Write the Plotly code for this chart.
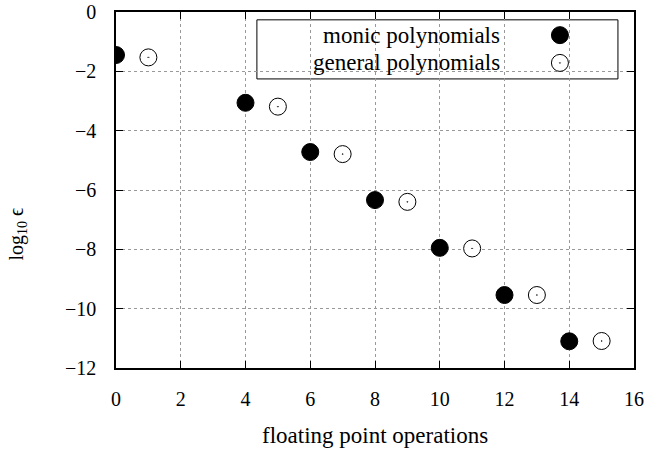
import plotly.graph_objects as go

monic_x = [0, 4, 6, 8, 10, 12, 14]
monic_y = [-1.45, -3.06, -4.72, -6.34, -7.95, -9.54, -11.1]
general_x = [1, 5, 7, 9, 11, 13, 15]
general_y = [-1.53, -3.19, -4.79, -6.40, -7.97, -9.54, -11.09]
series_names = ["monic polynomials", "general polynomials"]
x_ticks = [0, 2, 4, 6, 8, 10, 12, 14, 16]
y_ticks = [0, -2, -4, -6, -8, -10, -12]

FONT = "'Liberation Serif', 'Times New Roman', serif"
TICK_FS = 20
TEXT_FS = 23

fig = go.Figure()
fig.add_trace(go.Scatter(x=monic_x, y=monic_y, mode="markers", name=series_names[0],
                         marker=dict(symbol="circle", size=17, color="black",
                                     line=dict(color="black", width=1)),
                         showlegend=False))
fig.add_trace(go.Scatter(x=general_x, y=general_y, mode="markers", name=series_names[1],
                         marker=dict(symbol="circle-dot", size=17, color="white",
                                     line=dict(color="black", width=1)),
                         showlegend=False))

# custom legend (marker on the right of right-aligned text)
leg_x0, leg_x1, leg_y0, leg_y1 = 0.272, 0.969, 0.812, 0.978
leg_text_x = 0.745
leg_mark_x = 0.857
leg_rows = [0.935, 0.857]
fig.add_shape(type="rect", xref="paper", yref="paper", x0=leg_x0, x1=leg_x1,
              y0=leg_y0, y1=leg_y1, line=dict(color="black", width=1),
              fillcolor="white", layer="between")
for name, ry in zip(series_names, leg_rows):
    fig.add_annotation(x=leg_text_x, y=ry, xref="paper", yref="paper", text=name,
                       showarrow=False, xanchor="right", yanchor="middle",
                       font=dict(family=FONT, size=TEXT_FS, color="black"))
fig.add_trace(go.Scatter(x=[leg_mark_x], y=[leg_rows[0]], xaxis="x2", yaxis="y2",
                         mode="markers", showlegend=False, hoverinfo="skip",
                         marker=dict(symbol="circle", size=17, color="black",
                                     line=dict(color="black", width=1))))
fig.add_trace(go.Scatter(x=[leg_mark_x], y=[leg_rows[1]], xaxis="x2", yaxis="y2",
                         mode="markers", showlegend=False, hoverinfo="skip",
                         marker=dict(symbol="circle-dot", size=17, color="white",
                                     line=dict(color="black", width=1))))

axis_common = dict(showline=True, linecolor="black", linewidth=1.5, mirror="allticks",
                   ticks="inside", ticklen=7, tickcolor="black", tickwidth=1,
                   showgrid=True, gridcolor="#999999", griddash="dot", gridwidth=1,
                   zeroline=False, automargin=False,
                   tickfont=dict(family=FONT, size=TICK_FS, color="black"))

# axis titles as annotations (y title is centred on the figure, not the plot)
fig.add_annotation(text="floating point operations", xref="paper", yref="paper",
                   x=0.5, y=-0.19, xanchor="center", yanchor="middle", showarrow=False,
                   font=dict(family=FONT, size=TEXT_FS, color="black"))
fig.add_annotation(text="log<sub>10</sub> \u03f5", xref="paper", yref="paper",
                   x=-0.191, y=0.375, xanchor="center", yanchor="middle", showarrow=False,
                   textangle=-90, font=dict(family=FONT, size=TICK_FS, color="black"))

fig.update_layout(
    width=647, height=456,
    margin=dict(l=116, r=13, t=12, b=88),
    paper_bgcolor="white", plot_bgcolor="white",
    font=dict(family=FONT, size=TICK_FS, color="black"),
    xaxis=dict(range=[0, 16], tickvals=x_ticks, ticktext=[str(v) for v in x_ticks],
               ticklabelstandoff=12, **axis_common),
    yaxis=dict(range=[-12, 0], tickvals=y_ticks,
               ticktext=[("\u2212" + str(-v)) if v < 0 else str(v) for v in y_ticks],
               ticklabelstandoff=14, **axis_common),
    xaxis2=dict(range=[0, 1], overlaying="x", visible=False, domain=[0, 1]),
    yaxis2=dict(range=[0, 1], overlaying="y", visible=False, domain=[0, 1]),
)

fig.write_html("out.html", config={"displayModeBar": False},
               post_script="document.body.style.margin='0';document.body.style.overflow='hidden';")
